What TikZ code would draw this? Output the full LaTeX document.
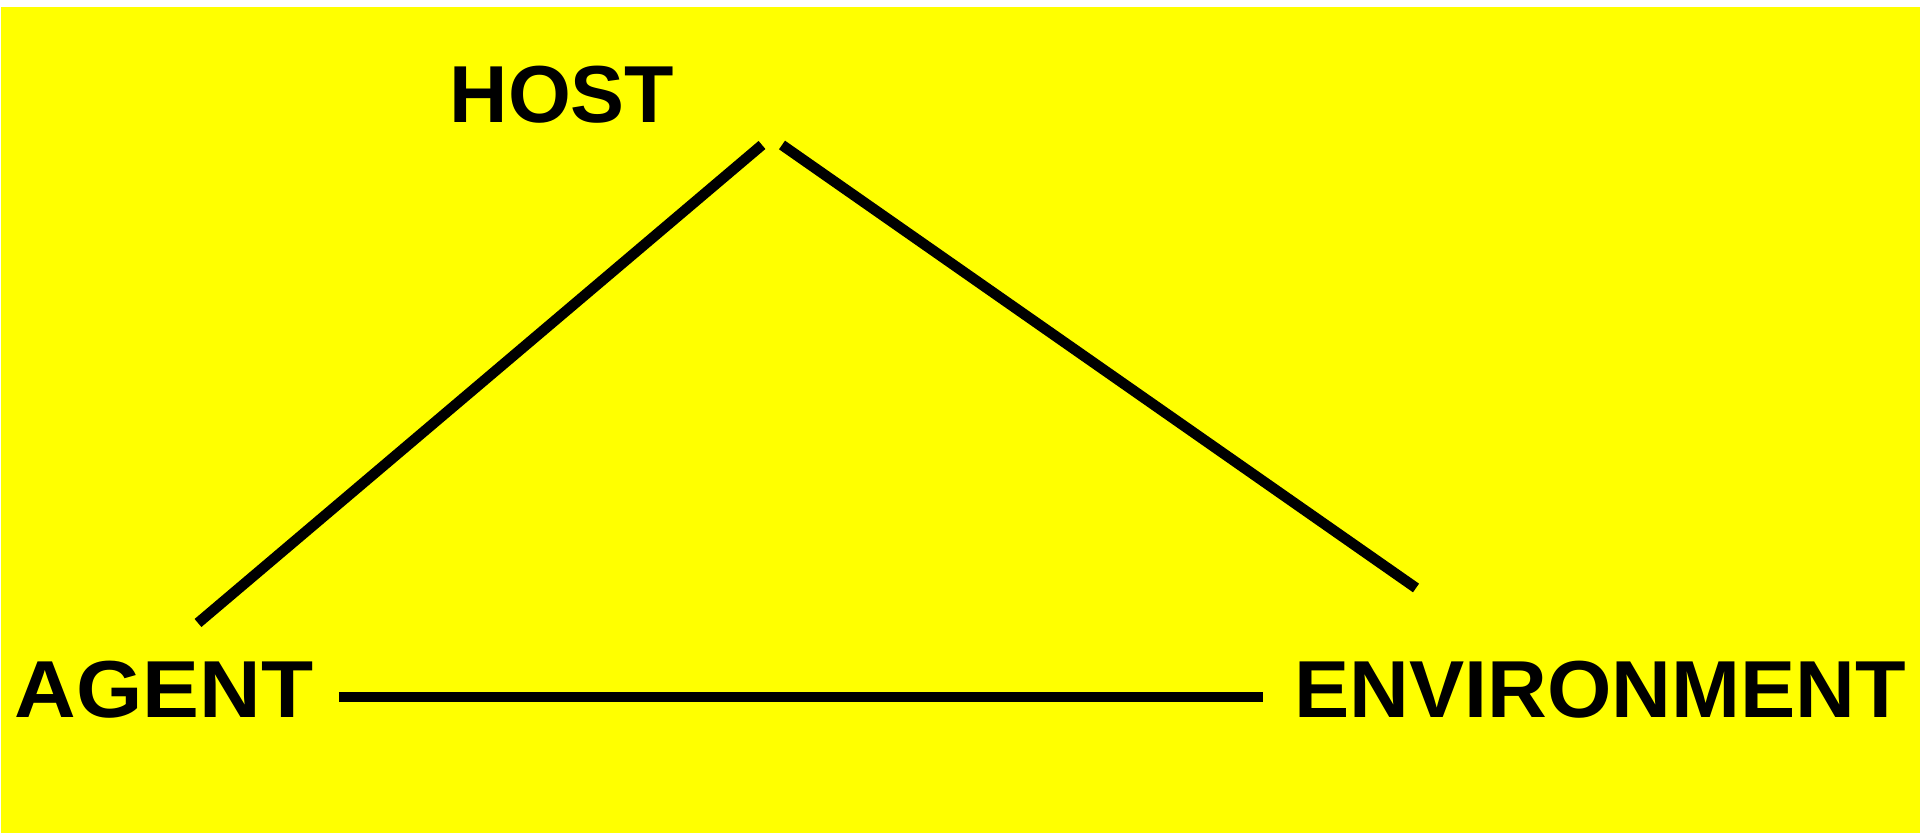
\documentclass[tikz,border=0pt]{standalone}
\usepackage{fontspec}
\setmainfont{Liberation Sans}
\usepackage{tikz}
\usetikzlibrary{positioning,calc}
\definecolor{bgyellow}{RGB}{255,255,0}

\begin{document}
\begin{tikzpicture}[
    font=\fontsize{23}{27}\selectfont\bfseries,
    lbl/.style={inner sep=0pt,anchor=base,text=black},
    link/.style={line width=3pt,draw=black}
]
\useasboundingbox (0,0) rectangle (19.2,8.35);
\fill[white] (0,0) rectangle (19.2,8.35);
\fill[bgyellow] (0.01,0.02) rectangle (19.2,8.28);
\node[lbl] (host) at (5.62,7.12) {HOST};
\node[lbl] (agent) at (1.64,1.17) {\scalebox{1.055}[1]{AGENT}};
\node[lbl] (env) at (16.0,1.17) {\scalebox{1.024}[1]{ENVIRONMENT}};
\coordinate (apexL) at (7.62,6.90);
\coordinate (apexR) at (7.82,6.90);
\coordinate (agentT) at (1.98,2.12);
\coordinate (envT) at (14.16,2.47);
\draw[link] (agentT) -- (apexL);
\draw[link] (apexR) -- (envT);
\draw[link,shorten <=0.25cm,shorten >=0.30cm] ([yshift=-0.07cm]agent.east) -- ([yshift=-0.07cm]env.west);
\end{tikzpicture}
\end{document}
